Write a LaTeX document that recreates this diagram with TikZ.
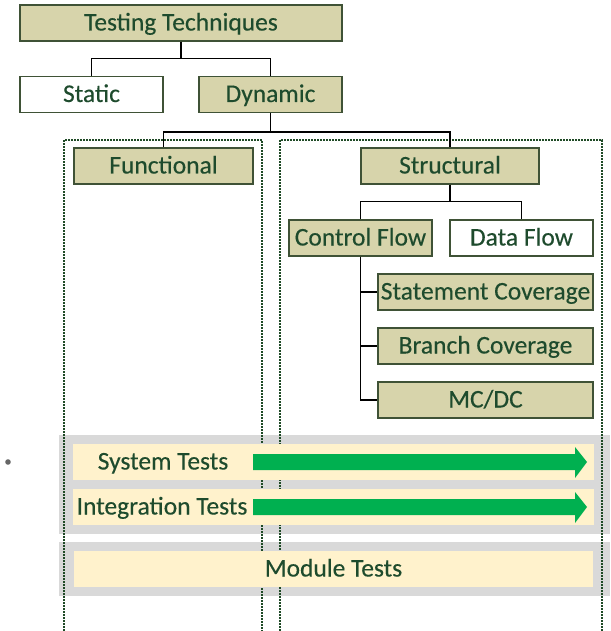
\documentclass[tikz,border=0pt]{standalone}
\usepackage{fontspec}
\setmainfont{Carlito}[FakeBold=0.3]
\definecolor{khaki}{HTML}{D7D4AB}
\definecolor{boxline}{HTML}{3F5236}
\definecolor{txt}{HTML}{1E4B2D}
\definecolor{dashline}{HTML}{1F4A26}
\definecolor{band}{HTML}{D9D9D9}
\definecolor{cream}{HTML}{FFF2CC}
\definecolor{go}{HTML}{00B050}
\tikzset{
  label text/.style={text=txt, font=\fontsize{25.5}{30}\selectfont,
    text height=18pt, text depth=3pt},
  box/.style={draw=boxline, line width=1.3pt, fill=khaki, label text,
    inner sep=0pt, minimum height=36pt},
  plain/.style={box, fill=white},
  link/.style={draw=black, line width=1.5pt},
  lane/.style={draw=dashline, line width=1.4pt, dash pattern=on 2pt off 1pt},
  strip/.style={fill=band, draw=none},
  bar/.style={fill=cream, draw=none, inner sep=0pt, minimum height=36pt, label text},
  flow/.style={fill=go, draw=none}
}
\begin{document}
\begin{tikzpicture}[x=1pt, y=-1pt]
\useasboundingbox (0,0) rectangle (610,631);

% test-level bands
\fill[strip] (59,435) rectangle (610,534);
\fill[strip] (59,542) rectangle (610,596);

% functional / structural lanes
\draw[lane] (64,631) -- (64,140) -- (262,140) -- (262,631);
\draw[lane] (280,631) -- (280,140) -- (602,140) -- (602,631);

% test-level bars
\node[bar, minimum width=521pt] (sys) at (333.5,462) {};
\node[bar, minimum width=521pt] (integ) at (333.5,507) {};
\node[bar, minimum width=519pt] (mod) at (333.5,569) {Module Tests};

% coverage arrows
\fill[flow] (253,454) -- (575,454) -- (575,447) -- (587,462) -- (575,478) -- (575,470) -- (253,470) -- cycle;
\fill[flow] (253,499) -- (575,499) -- (575,492) -- (587,507) -- (575,523) -- (575,515) -- (253,515) -- cycle;
\node[label text, inner sep=0pt] (systxt) at (163,462) {System Tests};
\node[label text, inner sep=0pt] (integtxt) at (162,507) {Integration Tests};

\fill[gray!80!black] (8,462) circle (2.8pt);

% technique tree
\node[box, minimum width=322pt] (tt) at (181,23) {Testing Techniques};
\node[plain, minimum width=143pt] (static) at (91.5,94.5) {Static};
\node[box, minimum width=143pt] (dyn) at (270.5,94.5) {Dynamic};
\node[box, minimum width=179pt] (func) at (163.5,166) {Functional};
\node[box, minimum width=178pt] (struct) at (450,166) {Structural};
\node[box, minimum width=143pt] (cf) at (360.5,238) {Control Flow};
\node[plain, minimum width=143pt] (df) at (521.5,238) {Data Flow};
\node[box, minimum width=215pt] (sc) at (485.5,292) {Statement Coverage};
\node[box, minimum width=215pt] (bc) at (485.5,346) {Branch Coverage};
\node[box, minimum width=215pt] (mc) at (485.5,400) {MC/DC};

\draw[link] (tt.south) -- ++(0,17) -| (static.north);
\draw[link] (tt.south) -- ++(0,17) -| (dyn.north);
\draw[link] (dyn.south) -- ++(0,19) -| (func.north);
\draw[link] (dyn.south) -- ++(0,19) -| (struct.north);
\draw[link] (struct.south) -- ++(0,17) -| (cf.north);
\draw[link] (struct.south) -- ++(0,17) -| (df.north);
\draw[link] (cf.south) |- (sc.west);
\draw[link] (cf.south) |- (bc.west);
\draw[link] (cf.south) |- (mc.west);
\end{tikzpicture}
\end{document}
